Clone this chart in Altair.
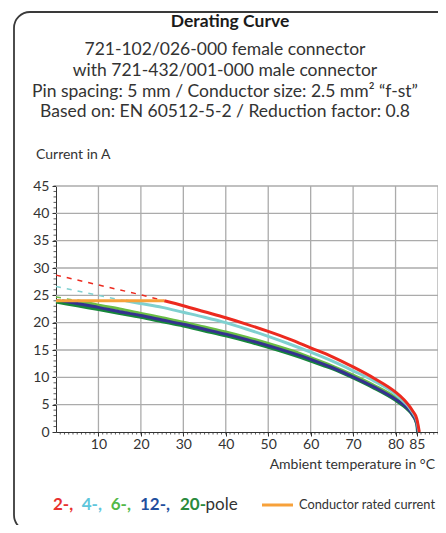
import altair as alt
import pandas as pd

FONT = "Lato"

# ---- data ----
TEMPS = [0, 5, 10, 15, 20, 25, 30, 35, 40, 45, 50, 55, 60, 65, 70, 75, 80, 82, 83, 84, 85]
POLES = ["2", "4", "6", "12", "20"]
END_TEMP = [85.6, 85.5, 85.4, 85.3, 85.2]
CURRENT_2 = [28.7, 27.8, 26.9, 26.0, 25.1, 24.1, 23.1, 22.0, 20.9, 19.7, 18.4, 17.0, 15.4, 13.8, 11.9, 9.8, 7.3, 5.9, 5.0, 3.9, 2.4, 0]
CURRENT_4 = [26.6, 25.8, 25.0, 24.2, 23.5, 22.8, 21.9, 21.0, 20.0, 18.8, 17.5, 16.1, 14.6, 13.0, 11.2, 9.3, 6.9, 5.5, 4.7, 3.6, 2.1, 0]
CURRENT_6 = [24.7, 24.0, 23.2, 22.5, 21.7, 20.9, 20.1, 19.2, 18.3, 17.3, 16.2, 15.0, 13.6, 12.1, 10.4, 8.5, 6.3, 5.1, 4.4, 3.4, 1.8, 0]
CURRENT_12 = [24.2, 23.5, 22.8, 22.0, 21.3, 20.5, 19.7, 18.8, 17.9, 16.9, 15.8, 14.6, 13.3, 11.8, 10.1, 8.2, 6.0, 4.9, 4.2, 3.2, 1.6, 0]
CURRENT_20 = [23.8, 23.1, 22.4, 21.7, 21.0, 20.2, 19.4, 18.5, 17.6, 16.6, 15.5, 14.3, 13.0, 11.6, 9.9, 8.0, 5.8, 4.7, 4.0, 3.1, 1.5, 0]
CURRENTS = [CURRENT_2, CURRENT_4, CURRENT_6, CURRENT_12, CURRENT_20]
RATED_CURRENT = 24
LINE_COLORS = ["#ec2a1f", "#7fd0d0", "#69bd45", "#35318f", "#17873b"]
TEXT_COLORS = ["#e8312f", "#5ec6dc", "#52b848", "#1f4f9e", "#2a8a3c"]
X_LABELS = [10, 20, 30, 40, 50, 60, 70, 80, 85]
X_GRID = [10, 20, 30, 40, 50, 60, 70, 80, 90]
Y_LABELS = [0, 5, 10, 15, 20, 25, 30, 35, 40, 45]
Y_GRID = [5, 10, 15, 20, 25, 30, 35, 40, 45]
X_MINOR = list(range(1, 91))
Y_MINOR = list(range(1, 46))

W, H = 382, 246
XS = alt.Scale(domain=[0, 90], nice=False)
YS = alt.Scale(domain=[0, 45], nice=False)
XA = alt.Axis(values=X_LABELS, grid=False, title=None, domainColor="#333333", tickColor="#333333",
              tickSize=4, labelFontSize=14, labelColor="#333333", labelFont=FONT, labelPadding=1,
              labelFlush=False)
YA = alt.Axis(values=Y_LABELS, grid=False, title=None, domainColor="#333333", tickColor="#333333",
              tickSize=4, labelFontSize=14, labelColor="#333333", labelFont=FONT, labelPadding=3,
              labelFlush=False)


def split(temps, vals, limit):
    dashed, solid = [], []
    for i, (t, v) in enumerate(zip(temps, vals)):
        if i > 0:
            t0, v0 = temps[i - 1], vals[i - 1]
            if (v0 - limit) * (v - limit) < 0:
                tc = t0 + (limit - v0) * (t - t0) / (v - v0)
                dashed.append((tc, limit))
                solid.append((tc, limit))
        if v >= limit:
            dashed.append((t, v))
        if v <= limit:
            solid.append((t, v))
    return dashed, solid


series = {}
for p, end, cur in zip(POLES, END_TEMP, CURRENTS):
    temps = TEMPS + [end]
    series[p] = split(temps, cur, RATED_CURRENT)

rated_end = series["2"][1][0][0]
rated_df = pd.DataFrame({"t": [0, rated_end], "a": [RATED_CURRENT, RATED_CURRENT]})

one = pd.DataFrame({"k": [0]})


def label(txt, x, y, size, weight="normal", color="#333333", align="center"):
    return alt.Chart(one).mark_text(
        text=txt, fontSize=size, fontWeight=weight, color=color, align=align,
        baseline="middle", font=FONT
    ).encode(x=alt.value(x), y=alt.value(y))


def xy(df):
    return dict(x=alt.X("t:Q", scale=XS, axis=XA), y=alt.Y("a:Q", scale=YS, axis=YA))


layers = []

# frame
layers.append(alt.Chart(one).mark_rect(
    fill="white", fillOpacity=0, stroke="#3a3a3a", strokeWidth=1.8, cornerRadius=16
).encode(x=alt.value(-42), x2=alt.value(400), y=alt.value(-174), y2=alt.value(345)))

# grid
layers.append(alt.Chart(pd.DataFrame({"t": X_GRID})).mark_rule(color="#ababab", strokeWidth=1.3).encode(
    x=alt.X("t:Q", scale=XS, axis=XA), y=alt.value(0), y2=alt.value(H)))
layers.append(alt.Chart(pd.DataFrame({"a": Y_GRID})).mark_rule(color="#ababab", strokeWidth=1.3).encode(
    y=alt.Y("a:Q", scale=YS, axis=YA), x=alt.value(0), x2=alt.value(W)))

# minor ticks
layers.append(alt.Chart(pd.DataFrame({"t": X_MINOR})).mark_rule(color="#333333", strokeWidth=0.8).encode(
    x=alt.X("t:Q", scale=XS, axis=XA), y=alt.value(H), y2=alt.value(H + 2.5)))
layers.append(alt.Chart(pd.DataFrame({"a": Y_MINOR})).mark_rule(color="#333333", strokeWidth=0.8).encode(
    y=alt.Y("a:Q", scale=YS, axis=YA), x=alt.value(-2.5), x2=alt.value(0)))

# dashed portions
for p, col in zip(POLES, LINE_COLORS):
    d = series[p][0]
    if len(d) >= 2:
        df = pd.DataFrame({"t": [q[0] for q in d], "a": [q[1] for q in d]})
        layers.append(alt.Chart(df).mark_line(color=col, strokeWidth=1.5, strokeDash=[5, 6]).encode(**xy(df)))

# solid portions (drawn back to front)
order = ["20", "6", "12", "4", "2"]
for p in order:
    col = LINE_COLORS[POLES.index(p)]
    s = series[p][1]
    df = pd.DataFrame({"t": [q[0] for q in s], "a": [q[1] for q in s]})
    layers.append(alt.Chart(df).mark_line(color=col, strokeWidth=3.2 if p == "20" else 3,
                                          interpolate="monotone").encode(**xy(df)))

# rated current
layers.append(alt.Chart(rated_df).mark_line(color="#f7a13a", strokeWidth=3).encode(**xy(rated_df)))

# texts
layers.append(label("Derating Curve", 174, -164, 17.5, weight="bold", color="#1a1a1a"))
layers.append(label("721-102/026-000 female connector", 169, -136, 17.5))
layers.append(label("with 721-432/001-000 male connector", 169, -115, 17.5))
layers.append(label("Pin spacing: 5 mm / Conductor size: 2.5 mm\u00b2 \u201cf-st\u201d", 169, -94, 17.5))
layers.append(label("Based on: EN 60512-5-2 / Reduction factor: 0.8", 169, -74, 17.5))
layers.append(label("Current in A", -20, -31, 14, align="left"))
layers.append(label("Ambient temperature in \u00b0C", 379, 279, 14, align="right"))

legend_parts = ["2-,", "4-,", "6-,", "12-,", "20-"]
legend_x = [-3, 25.7, 54.7, 84, 124]
for txt, xx, col in zip(legend_parts, legend_x, TEXT_COLORS):
    layers.append(label(txt, xx, 319, 17, weight="bold", color=col, align="left"))
layers.append(label("pole", 149.5, 319, 17, color="#333333", align="left"))
layers.append(alt.Chart(one).mark_rule(color="#f7a13a", strokeWidth=3).encode(
    x=alt.value(206), x2=alt.value(237), y=alt.value(319)))
layers.append(label("Conductor rated current", 379, 319, 12.8, align="right"))

chart = alt.layer(*layers).properties(
    width=W, height=H,
    autosize=alt.AutoSizeParams(type="none"),
    padding={"left": 48, "top": 178, "right": 0, "bottom": 93},
    background="white",
).configure_view(stroke=None)

chart.save("out.html", embed_options={"renderer": "svg", "actions": False})
